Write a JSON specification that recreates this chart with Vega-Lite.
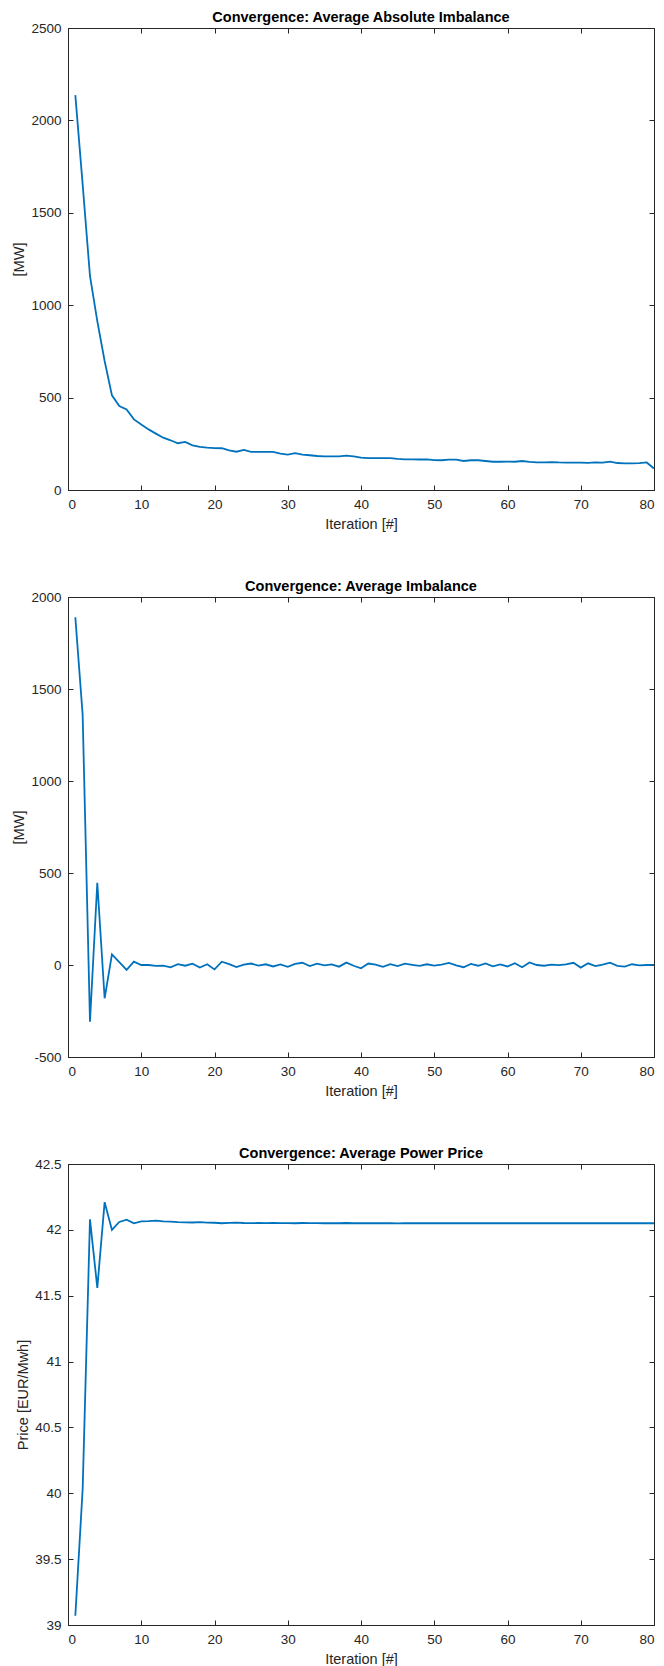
{
  "$schema": "https://vega.github.io/schema/vega-lite/v6.json",
  "padding": {"top": 9, "left": 11, "right": 2, "bottom": 0},
  "spacing": 46,
  "config": {
    "font": "Liberation Sans",
    "view": {"stroke": "#262626", "strokeWidth": 1},
    "axis": {
      "grid": false,
      "domainColor": "#262626",
      "tickColor": "#262626",
      "labelColor": "#262626",
      "titleColor": "#262626",
      "labelFontSize": 13.5,
      "titleFontSize": 14.5,
      "titleFontWeight": "normal",
      "tickSize": -5,
      "labelPadding": 12
    },
    "axisX": {"titlePadding": 7},
    "title": {"fontSize": 14.5, "fontWeight": "bold", "color": "#000000", "offset": -4, "frame": "group", "anchor": "middle"}
  },
  "datasets": {
    "abs": [
      {"iter": 1, "value": 2137}, {"iter": 2, "value": 1654}, {"iter": 3, "value": 1158}, {"iter": 4, "value": 914},
      {"iter": 5, "value": 698}, {"iter": 6, "value": 512}, {"iter": 7, "value": 454}, {"iter": 8, "value": 436},
      {"iter": 9, "value": 382}, {"iter": 10, "value": 355}, {"iter": 11, "value": 328}, {"iter": 12, "value": 305},
      {"iter": 13, "value": 283}, {"iter": 14, "value": 269}, {"iter": 15, "value": 253}, {"iter": 16, "value": 260},
      {"iter": 17, "value": 242}, {"iter": 18, "value": 233}, {"iter": 19, "value": 229}, {"iter": 20, "value": 227},
      {"iter": 21, "value": 226}, {"iter": 22, "value": 215}, {"iter": 23, "value": 207}, {"iter": 24, "value": 217},
      {"iter": 25, "value": 206}, {"iter": 26, "value": 206}, {"iter": 27, "value": 206}, {"iter": 28, "value": 206},
      {"iter": 29, "value": 197}, {"iter": 30, "value": 191}, {"iter": 31, "value": 199}, {"iter": 32, "value": 191},
      {"iter": 33, "value": 188}, {"iter": 34, "value": 184}, {"iter": 35, "value": 182}, {"iter": 36, "value": 182},
      {"iter": 37, "value": 182}, {"iter": 38, "value": 186}, {"iter": 39, "value": 182}, {"iter": 40, "value": 175},
      {"iter": 41, "value": 173}, {"iter": 42, "value": 173}, {"iter": 43, "value": 173}, {"iter": 44, "value": 172},
      {"iter": 45, "value": 168}, {"iter": 46, "value": 166}, {"iter": 47, "value": 166}, {"iter": 48, "value": 165},
      {"iter": 49, "value": 166}, {"iter": 50, "value": 162}, {"iter": 51, "value": 161}, {"iter": 52, "value": 164},
      {"iter": 53, "value": 164}, {"iter": 54, "value": 157}, {"iter": 55, "value": 161}, {"iter": 56, "value": 161},
      {"iter": 57, "value": 157}, {"iter": 58, "value": 153}, {"iter": 59, "value": 153}, {"iter": 60, "value": 154},
      {"iter": 61, "value": 153}, {"iter": 62, "value": 157}, {"iter": 63, "value": 152}, {"iter": 64, "value": 150},
      {"iter": 65, "value": 150}, {"iter": 66, "value": 151}, {"iter": 67, "value": 149}, {"iter": 68, "value": 148},
      {"iter": 69, "value": 148}, {"iter": 70, "value": 148}, {"iter": 71, "value": 147}, {"iter": 72, "value": 150},
      {"iter": 73, "value": 148}, {"iter": 74, "value": 153}, {"iter": 75, "value": 146}, {"iter": 76, "value": 144},
      {"iter": 77, "value": 144}, {"iter": 78, "value": 145}, {"iter": 79, "value": 149}, {"iter": 80, "value": 116}
    ],
    "imb": [
      {"iter": 1, "value": 1890}, {"iter": 2, "value": 1360}, {"iter": 3, "value": -308}, {"iter": 4, "value": 447},
      {"iter": 5, "value": -181}, {"iter": 6, "value": 58}, {"iter": 7, "value": 16}, {"iter": 8, "value": -27},
      {"iter": 9, "value": 18}, {"iter": 10, "value": 0}, {"iter": 11, "value": 0}, {"iter": 12, "value": -5},
      {"iter": 13, "value": -3}, {"iter": 14, "value": -13}, {"iter": 15, "value": 5}, {"iter": 16, "value": -4},
      {"iter": 17, "value": 7}, {"iter": 18, "value": -14}, {"iter": 19, "value": 4}, {"iter": 20, "value": -24},
      {"iter": 21, "value": 18}, {"iter": 22, "value": 5}, {"iter": 23, "value": -11}, {"iter": 24, "value": 2},
      {"iter": 25, "value": 8}, {"iter": 26, "value": -3}, {"iter": 27, "value": 4}, {"iter": 28, "value": -8},
      {"iter": 29, "value": 3}, {"iter": 30, "value": -10}, {"iter": 31, "value": 6}, {"iter": 32, "value": 12},
      {"iter": 33, "value": -6}, {"iter": 34, "value": 7}, {"iter": 35, "value": -2}, {"iter": 36, "value": 3},
      {"iter": 37, "value": -9}, {"iter": 38, "value": 13}, {"iter": 39, "value": -4}, {"iter": 40, "value": -18},
      {"iter": 41, "value": 8}, {"iter": 42, "value": 2}, {"iter": 43, "value": -10}, {"iter": 44, "value": 5},
      {"iter": 45, "value": -6}, {"iter": 46, "value": 7}, {"iter": 47, "value": 1}, {"iter": 48, "value": -5},
      {"iter": 49, "value": 4}, {"iter": 50, "value": -3}, {"iter": 51, "value": 2}, {"iter": 52, "value": 11},
      {"iter": 53, "value": -2}, {"iter": 54, "value": -12}, {"iter": 55, "value": 6}, {"iter": 56, "value": -4},
      {"iter": 57, "value": 9}, {"iter": 58, "value": -7}, {"iter": 59, "value": 3}, {"iter": 60, "value": -8},
      {"iter": 61, "value": 10}, {"iter": 62, "value": -12}, {"iter": 63, "value": 14}, {"iter": 64, "value": 0},
      {"iter": 65, "value": -4}, {"iter": 66, "value": 2}, {"iter": 67, "value": -1}, {"iter": 68, "value": 3},
      {"iter": 69, "value": 12}, {"iter": 70, "value": -14}, {"iter": 71, "value": 9}, {"iter": 72, "value": -6},
      {"iter": 73, "value": 2}, {"iter": 74, "value": 13}, {"iter": 75, "value": -5}, {"iter": 76, "value": -9},
      {"iter": 77, "value": 4}, {"iter": 78, "value": -2}, {"iter": 79, "value": 0}, {"iter": 80, "value": 1}
    ],
    "price": [
      {"iter": 1, "value": 39.07}, {"iter": 2, "value": 40.03}, {"iter": 3, "value": 42.08}, {"iter": 4, "value": 41.56},
      {"iter": 5, "value": 42.21}, {"iter": 6, "value": 42.0}, {"iter": 7, "value": 42.06}, {"iter": 8, "value": 42.077},
      {"iter": 9, "value": 42.05}, {"iter": 10, "value": 42.065}, {"iter": 11, "value": 42.066}, {"iter": 12, "value": 42.07},
      {"iter": 13, "value": 42.065}, {"iter": 14, "value": 42.062}, {"iter": 15, "value": 42.058}, {"iter": 16, "value": 42.057},
      {"iter": 17, "value": 42.056}, {"iter": 18, "value": 42.058}, {"iter": 19, "value": 42.055}, {"iter": 20, "value": 42.054},
      {"iter": 21, "value": 42.05}, {"iter": 22, "value": 42.053}, {"iter": 23, "value": 42.055}, {"iter": 24, "value": 42.052},
      {"iter": 25, "value": 42.051}, {"iter": 26, "value": 42.052}, {"iter": 27, "value": 42.051}, {"iter": 28, "value": 42.052},
      {"iter": 29, "value": 42.051}, {"iter": 30, "value": 42.051}, {"iter": 31, "value": 42.05}, {"iter": 32, "value": 42.052},
      {"iter": 33, "value": 42.051}, {"iter": 34, "value": 42.051}, {"iter": 35, "value": 42.05}, {"iter": 36, "value": 42.051},
      {"iter": 37, "value": 42.05}, {"iter": 38, "value": 42.052}, {"iter": 39, "value": 42.05}, {"iter": 40, "value": 42.05},
      {"iter": 41, "value": 42.051}, {"iter": 42, "value": 42.05}, {"iter": 43, "value": 42.05}, {"iter": 44, "value": 42.051},
      {"iter": 45, "value": 42.049}, {"iter": 46, "value": 42.05}, {"iter": 47, "value": 42.05}, {"iter": 48, "value": 42.05},
      {"iter": 49, "value": 42.05}, {"iter": 50, "value": 42.05}, {"iter": 51, "value": 42.05}, {"iter": 52, "value": 42.05},
      {"iter": 53, "value": 42.05}, {"iter": 54, "value": 42.05}, {"iter": 55, "value": 42.05}, {"iter": 56, "value": 42.05},
      {"iter": 57, "value": 42.05}, {"iter": 58, "value": 42.05}, {"iter": 59, "value": 42.05}, {"iter": 60, "value": 42.05},
      {"iter": 61, "value": 42.05}, {"iter": 62, "value": 42.05}, {"iter": 63, "value": 42.05}, {"iter": 64, "value": 42.05},
      {"iter": 65, "value": 42.05}, {"iter": 66, "value": 42.05}, {"iter": 67, "value": 42.05}, {"iter": 68, "value": 42.05},
      {"iter": 69, "value": 42.05}, {"iter": 70, "value": 42.05}, {"iter": 71, "value": 42.05}, {"iter": 72, "value": 42.05},
      {"iter": 73, "value": 42.05}, {"iter": 74, "value": 42.05}, {"iter": 75, "value": 42.05}, {"iter": 76, "value": 42.05},
      {"iter": 77, "value": 42.05}, {"iter": 78, "value": 42.05}, {"iter": 79, "value": 42.05}, {"iter": 80, "value": 42.05}
    ]
  },
  "vconcat": [
    {
      "title": "Convergence: Average Absolute Imbalance",
      "width": 586, "height": 462,
      "data": {"name": "abs"},
      "layer": [
        {
          "mark": {"type": "line", "color": "#0072BD", "strokeWidth": 1.8},
          "encoding": {
            "x": {"field": "iter", "type": "quantitative", "scale": {"domain": [0, 80], "nice": false}, "axis": {"values": [0,10,20,30,40,50,60,70,80], "title": "Iteration [#]"}},
            "y": {"field": "value", "type": "quantitative", "scale": {"domain": [0, 2500], "nice": false}, "axis": {"values": [0,500,1000,1500,2000,2500], "labelExpr": "'' + datum.value", "title": "[MW]"}}
          }
        },
        {
          "mark": {"type": "line", "strokeOpacity": 0},
          "encoding": {
            "x": {"field": "iter", "type": "quantitative", "axis": {"orient": "top", "values": [0,10,20,30,40,50,60,70,80], "labels": false, "title": null, "domain": false}},
            "y": {"field": "value", "type": "quantitative", "axis": {"orient": "right", "values": [0,500,1000,1500,2000,2500], "labels": false, "title": null, "domain": false}}
          }
        }
      ],
      "resolve": {"axis": {"x": "independent", "y": "independent"}}
    },
    {
      "title": "Convergence: Average Imbalance",
      "width": 586, "height": 460,
      "data": {"name": "imb"},
      "layer": [
        {
          "mark": {"type": "line", "color": "#0072BD", "strokeWidth": 1.8},
          "encoding": {
            "x": {"field": "iter", "type": "quantitative", "scale": {"domain": [0, 80], "nice": false}, "axis": {"values": [0,10,20,30,40,50,60,70,80], "title": "Iteration [#]"}},
            "y": {"field": "value", "type": "quantitative", "scale": {"domain": [-500, 2000], "nice": false, "zero": false}, "axis": {"values": [-500,0,500,1000,1500,2000], "labelExpr": "'' + datum.value", "title": "[MW]"}}
          }
        },
        {
          "mark": {"type": "line", "strokeOpacity": 0},
          "encoding": {
            "x": {"field": "iter", "type": "quantitative", "axis": {"orient": "top", "values": [0,10,20,30,40,50,60,70,80], "labels": false, "title": null, "domain": false}},
            "y": {"field": "value", "type": "quantitative", "axis": {"orient": "right", "values": [-500,0,500,1000,1500,2000], "labels": false, "title": null, "domain": false}}
          }
        }
      ],
      "resolve": {"axis": {"x": "independent", "y": "independent"}}
    },
    {
      "title": "Convergence: Average Power Price",
      "width": 586, "height": 461,
      "data": {"name": "price"},
      "layer": [
        {
          "mark": {"type": "line", "color": "#0072BD", "strokeWidth": 1.8},
          "encoding": {
            "x": {"field": "iter", "type": "quantitative", "scale": {"domain": [0, 80], "nice": false}, "axis": {"values": [0,10,20,30,40,50,60,70,80], "title": "Iteration [#]"}},
            "y": {"field": "value", "type": "quantitative", "scale": {"domain": [39, 42.5], "nice": false, "zero": false}, "axis": {"values": [39,39.5,40,40.5,41,41.5,42,42.5], "labelExpr": "'' + datum.value", "title": "Price [EUR/Mwh]"}}
          }
        },
        {
          "mark": {"type": "line", "strokeOpacity": 0},
          "encoding": {
            "x": {"field": "iter", "type": "quantitative", "axis": {"orient": "top", "values": [0,10,20,30,40,50,60,70,80], "labels": false, "title": null, "domain": false}},
            "y": {"field": "value", "type": "quantitative", "axis": {"orient": "right", "values": [39,39.5,40,40.5,41,41.5,42,42.5], "labels": false, "title": null, "domain": false}}
          }
        }
      ],
      "resolve": {"axis": {"x": "independent", "y": "independent"}}
    }
  ]
}
